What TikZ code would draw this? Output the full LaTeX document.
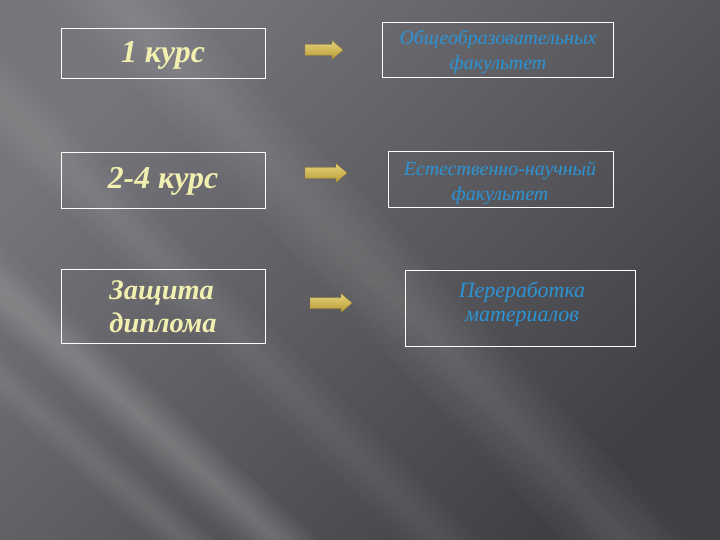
\documentclass[tikz,border=0pt]{standalone}
\usepackage{fontspec}
\setmainfont{Liberation Serif}
\usetikzlibrary{calc}
\definecolor{txtyellow}{HTML}{F2F0B0}
\definecolor{txtblue}{HTML}{2C94D4}
\definecolor{arrowtop}{HTML}{E6D27A}
\definecolor{arrowbot}{HTML}{B89A36}
\definecolor{bgL}{HTML}{76767C}
\definecolor{bgR}{HTML}{404044}
\tikzset{
  box/.style={draw=white, line width=0.9pt},
  lefttxt/.style={text=txtyellow, font=\fontsize{32}{34}\selectfont\bfseries\itshape, align=center},
  righttxt/.style={text=txtblue, font=\fontsize{20}{25}\selectfont\itshape, align=center},
  arrowshape/.style={top color=arrowtop, bottom color=arrowbot, draw=arrowbot!80!black, line width=0.3pt}
}
\newcommand{\yarrowat}[2]{% #1 start coordinate, #2 length
  \shade[arrowshape] ($(#1)+(0,-5.5)$) -- ++(#2-11,0) -- ++(0,-4) -- ($(#1)+(#2,0)$)
     -- ($(#1)+(#2-11,9.5)$) -- ++(0,-4) -- ($(#1)+(0,5.5)$) -- cycle;}
\newcommand{\softband}[4]{% from, to, max width, opacity per layer
  \foreach \k in {1,...,6} {
      \draw[white, opacity=#4, line width={#3*\k/6}] #1 -- #2;
  }}
\begin{document}
\begin{tikzpicture}[x=1bp,y=-1bp]
\useasboundingbox (0,0) rectangle (720,540);
\begin{scope}
\clip (0,0) rectangle (720,540);
\shade[top color=bgL, bottom color=bgR, shading angle=45] (0,0) rectangle (720,540);
% soft light rays (top-left to lower-right)
\softband{(60,-60)}{(700,620)}{90}{0.018}
\softband{(-80,20)}{(520,620)}{60}{0.016}
\softband{(-80,210)}{(380,640)}{60}{0.02}
\softband{(-80,310)}{(300,640)}{40}{0.018}
\softband{(-60,243)}{(400,640)}{50}{0.016}
\end{scope}
% left boxes
\draw[box] (61,28) rectangle (265,78);
\node[lefttxt] (t1) at (163,55) {1 курс};
\draw[box] (61,152) rectangle (265,208);
\node[lefttxt] (t2) at (163,181) {2-4 курс};
\draw[box] (61,269) rectangle (265,343);
\node[lefttxt, align=left, font=\fontsize{28.5}{33}\selectfont\bfseries\itshape] (t3) at (163,307) {Защита\\ диплома};
% arrows
\coordinate (a1) at (305,50);
\coordinate (a2) at (305,173);
\coordinate (a3) at (310,303);
\yarrowat{a1}{38}
\yarrowat{a2}{42}
\yarrowat{a3}{42}
% right boxes
\draw[box] (382,22) rectangle (613,77);
\node[righttxt, font=\fontsize{20}{26}\selectfont\itshape] (r1) at (498,52) {Общеобразовательных\\ факультет};
\draw[box] (388,151) rectangle (613,207);
\node[righttxt] (r2) at (500,183) {Естественно-научный\\ факультет};
\draw[box] (405,270) rectangle (635,346);
\node[righttxt, font=\fontsize{22}{25}\selectfont\itshape] (r3) at (522,304) {Переработка\\ материалов};
\end{tikzpicture}
\end{document}
